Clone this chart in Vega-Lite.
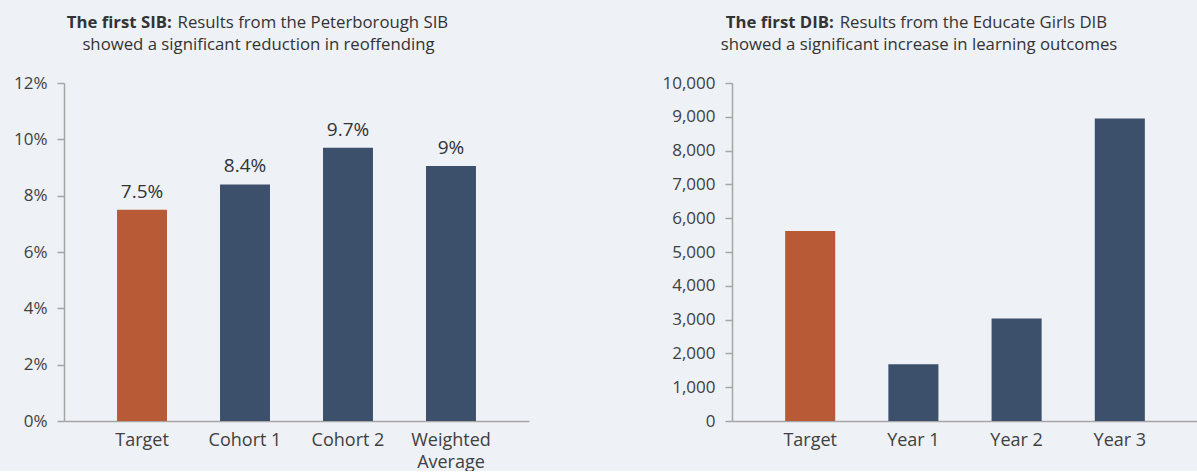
{
  "$schema": "https://vega.github.io/schema/vega-lite/v6.json",
  "background": "#eef1f6",
  "padding": {"left": 13, "top": 15, "right": 0, "bottom": 0},
  "spacing": 132,
  "config": {
    "view": {"stroke": null},
    "font": "Open Sans",
    "axis": {
      "domainColor": "#a6a6a6", "domainWidth": 1.5,
      "tickColor": "#a6a6a6", "tickWidth": 1.5,
      "labelFont": "Open Sans", "labelFontSize": 17, "labelColor": "#404040",
      "grid": false, "title": null
    }
  },
  "hconcat": [
    {
      "width": 465, "height": 338,
      "title": {
        "text": "The first SIB:\u00a0\u00a0\u00a0\u00a0\u00a0\u00a0\u00a0\u00a0\u00a0\u00a0\u00a0\u00a0\u00a0\u00a0\u00a0\u00a0\u00a0\u00a0\u00a0\u00a0\u00a0\u00a0\u00a0\u00a0\u00a0\u00a0\u00a0\u00a0\u00a0\u00a0\u00a0\u00a0\u00a0\u00a0\u00a0\u00a0\u00a0\u00a0\u00a0\u00a0\u00a0\u00a0\u00a0\u00a0\u00a0\u00a0\u00a0\u00a0\u00a0\u00a0\u00a0\u00a0\u00a0\u00a0\u00a0\u00a0\u00a0\u00a0\u00a0\u00a0\u00a0\u00a0\u00a0\u00a0\u200b",
        "subtitle": ["\u200b\u00a0\u00a0\u00a0\u00a0\u00a0\u00a0\u00a0\u00a0\u00a0\u00a0\u00a0\u00a0\u00a0\u00a0\u00a0\u00a0\u00a0\u00a0\u00a0\u00a0\u00a0\u00a0\u00a0\u00a0\u00a0Results from the Peterborough SIB", "showed a significant reduction in reoffending"],
        "anchor": "middle", "frame": "group", "dx": -38,
        "font": "Open Sans", "fontWeight": "bold", "fontSize": 16.75, "color": "#333333",
        "subtitleFont": "Open Sans", "subtitleFontSize": 16.75, "subtitleColor": "#333333",
        "subtitlePadding": -16.75, "subtitleLineHeight": 22, "offset": 20
      },
      "data": {"values": [
        {"category": "Target", "value": 0.075, "label": "7.5%", "type": "target"},
        {"category": "Cohort 1", "value": 0.084, "label": "8.4%", "type": "result"},
        {"category": "Cohort 2", "value": 0.097, "label": "9.7%", "type": "result"},
        {"category": "Weighted Average", "value": 0.0905, "label": "9%", "type": "result"}
      ]},
      "encoding": {
        "x": {"field": "category", "type": "nominal", "sort": null,
          "scale": {"paddingInner": 0.515, "paddingOuter": 0.515},
          "axis": {"labelAngle": 0, "ticks": false, "labelPadding": 10, "labelLineHeight": 22, "labelFontSize": 18,
            "labelExpr": "datum.label == 'Weighted Average' ? ['Weighted', 'Average'] : datum.label"}},
        "y": {"field": "value", "type": "quantitative",
          "scale": {"domain": [0, 0.12], "nice": false},
          "axis": {"values": [0, 0.02, 0.04, 0.06, 0.08, 0.1, 0.12], "format": ".0%", "tickSize": 7, "labelPadding": 10}}
      },
      "layer": [
        {"mark": {"type": "bar"},
         "encoding": {"color": {"field": "type", "type": "nominal", "scale": {"domain": ["target", "result"], "range": ["#b95a36", "#3c4f6b"]}, "legend": null}}},
        {"mark": {"type": "text", "dy": -12, "baseline": "alphabetic", "fontSize": 19, "color": "#333333", "font": "Open Sans"},
         "encoding": {"text": {"field": "label"}}}
      ]
    },
    {
      "width": 466, "height": 338,
      "title": {
        "text": "The first DIB:\u00a0\u00a0\u00a0\u00a0\u00a0\u00a0\u00a0\u00a0\u00a0\u00a0\u00a0\u00a0\u00a0\u00a0\u00a0\u00a0\u00a0\u00a0\u00a0\u00a0\u00a0\u00a0\u00a0\u00a0\u00a0\u00a0\u00a0\u00a0\u00a0\u00a0\u00a0\u00a0\u00a0\u00a0\u00a0\u00a0\u00a0\u00a0\u00a0\u00a0\u00a0\u00a0\u00a0\u00a0\u00a0\u00a0\u00a0\u00a0\u00a0\u00a0\u00a0\u00a0\u00a0\u00a0\u00a0\u00a0\u00a0\u00a0\u00a0\u00a0\u00a0\u00a0\u00a0\u00a0\u200b",
        "subtitle": ["\u200b\u00a0\u00a0\u00a0\u00a0\u00a0\u00a0\u00a0\u00a0\u00a0\u00a0\u00a0\u00a0\u00a0\u00a0\u00a0\u00a0\u00a0\u00a0\u00a0\u00a0\u00a0\u00a0\u00a0\u00a0\u00a0Results from the Educate Girls DIB", "showed a significant increase in learning outcomes"],
        "anchor": "middle", "frame": "group", "dx": -46,
        "font": "Open Sans", "fontWeight": "bold", "fontSize": 16.75, "color": "#333333",
        "subtitleFont": "Open Sans", "subtitleFontSize": 16.75, "subtitleColor": "#333333",
        "subtitlePadding": -16.75, "subtitleLineHeight": 22, "offset": 20
      },
      "data": {"values": [
        {"category": "Target", "value": 5620, "type": "target"},
        {"category": "Year 1", "value": 1680, "type": "result"},
        {"category": "Year 2", "value": 3030, "type": "result"},
        {"category": "Year 3", "value": 8950, "type": "result"}
      ]},
      "mark": {"type": "bar"},
      "encoding": {
        "x": {"field": "category", "type": "nominal", "sort": null,
          "scale": {"paddingInner": 0.515, "paddingOuter": 0.515},
          "axis": {"labelAngle": 0, "ticks": false, "labelPadding": 10, "labelFontSize": 18}},
        "y": {"field": "value", "type": "quantitative",
          "scale": {"domain": [0, 10000], "nice": false},
          "axis": {"values": [0, 1000, 2000, 3000, 4000, 5000, 6000, 7000, 8000, 9000, 10000], "format": ",.0f", "tickSize": 7, "labelPadding": 10}},
        "color": {"field": "type", "type": "nominal", "scale": {"domain": ["target", "result"], "range": ["#b95a36", "#3c4f6b"]}, "legend": null}
      }
    }
  ]
}
